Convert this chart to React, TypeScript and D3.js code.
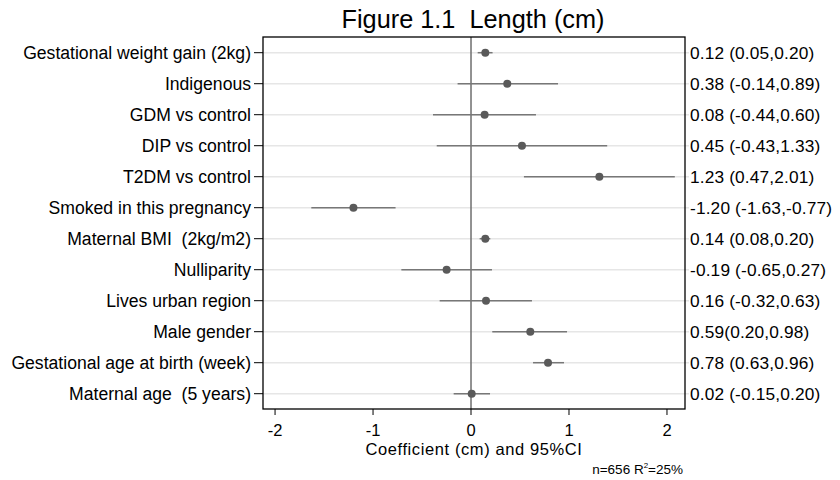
import React from "react";
import * as d3 from "d3";

const labels = [
  "Gestational weight gain (2kg)",
  "Indigenous",
  "GDM vs control",
  "DIP vs control",
  "T2DM vs control",
  "Smoked in this pregnancy",
  "Maternal BMI  (2kg/m2)",
  "Nulliparity",
  "Lives urban region",
  "Male gender",
  "Gestational age at birth (week)",
  "Maternal age  (5 years)",
];
const estimates = [0.146, 0.37, 0.139, 0.52, 1.31, -1.2, 0.146, -0.249, 0.153, 0.605, 0.786, 0.007];
const lower = [0.068, -0.137, -0.388, -0.35, 0.54, -1.63, 0.088, -0.711, -0.32, 0.217, 0.633, -0.177];
const upper = [0.22, 0.888, 0.663, 1.39, 2.08, -0.77, 0.197, 0.214, 0.622, 0.98, 0.949, 0.194];
const ciText = [
  "0.12 (0.05,0.20)",
  "0.38 (-0.14,0.89)",
  "0.08 (-0.44,0.60)",
  "0.45 (-0.43,1.33)",
  "1.23 (0.47,2.01)",
  "-1.20 (-1.63,-0.77)",
  "0.14 (0.08,0.20)",
  "-0.19 (-0.65,0.27)",
  "0.16 (-0.32,0.63)",
  "0.59(0.20,0.98)",
  "0.78 (0.63,0.96)",
  "0.02 (-0.15,0.20)",
];
const xTicks = [-2, -1, 0, 1, 2];

export default function App() {
  const W = 840, H = 480;
  const left = 263, right = 685, top = 37, bottom = 409;
  const x = d3.scaleLinear().domain([-2.123, 2.184]).range([left, right]);
  const y = d3.scalePoint<number>().domain(d3.range(labels.length)).range([52.7, 393.7]);
  const font = "Liberation Sans, Arial, sans-serif";
  const pre = { whiteSpace: "pre" as const };
  return (
    <svg width={W} height={H} style={{ position: "absolute", left: 0, top: 0, background: "#fff" }} fontFamily={font}>
      <rect x={0} y={0} width={W} height={H} fill="#fff" />
      <text x={473} y={28} textAnchor="middle" fontSize={25.3} fill="#000" style={pre}>Figure 1.1  Length (cm)</text>
      {labels.map((l, i) => (
        <g key={i}>
          <line x1={left} x2={right + 4} y1={y(i)} y2={y(i)} stroke="#e6e6e6" strokeWidth={1.5} />
          <line x1={left - 9} x2={left} y1={y(i)} y2={y(i)} stroke="#000" strokeWidth={1} />
          <text x={251} y={y(i)!} dy="0.35em" textAnchor="end" fontSize={17.6} fill="#000" style={pre}>{l}</text>
          <text x={690} y={y(i)!} dy="0.35em" textAnchor="start" fontSize={17.3} letterSpacing={0.15} fill="#000">{ciText[i]}</text>
        </g>
      ))}
      <line x1={x(0)} x2={x(0)} y1={top} y2={bottom} stroke="#6e6e6e" strokeWidth={1.5} />
      {labels.map((l, i) => (
        <g key={"m" + i}>
          <line x1={x(lower[i])} x2={x(upper[i])} y1={y(i)} y2={y(i)} stroke="#777" strokeWidth={1.5} />
          <circle cx={x(estimates[i])} cy={y(i)} r={4} fill="#5a5a5a" />
        </g>
      ))}
      <rect x={left} y={top} width={right - left} height={bottom - top} fill="none" stroke="#000" strokeWidth={1.3} />
      {xTicks.map((t) => (
        <g key={t}>
          <line x1={x(t)} x2={x(t)} y1={bottom} y2={bottom + 6} stroke="#000" strokeWidth={1} />
          <text x={x(t)} y={436} textAnchor="middle" fontSize={16.5} fill="#000">{t}</text>
        </g>
      ))}
      <text x={474} y={454.5} textAnchor="middle" fontSize={16.5} letterSpacing={0.6} fill="#000">Coefficient (cm) and 95%CI</text>
      <text x={683} y={474} textAnchor="end" fontSize={13.5} fill="#000">
        n=656 R<tspan dy={-6} fontSize={8}>2</tspan><tspan dy={6}>=25%</tspan>
      </text>
    </svg>
  );
}
